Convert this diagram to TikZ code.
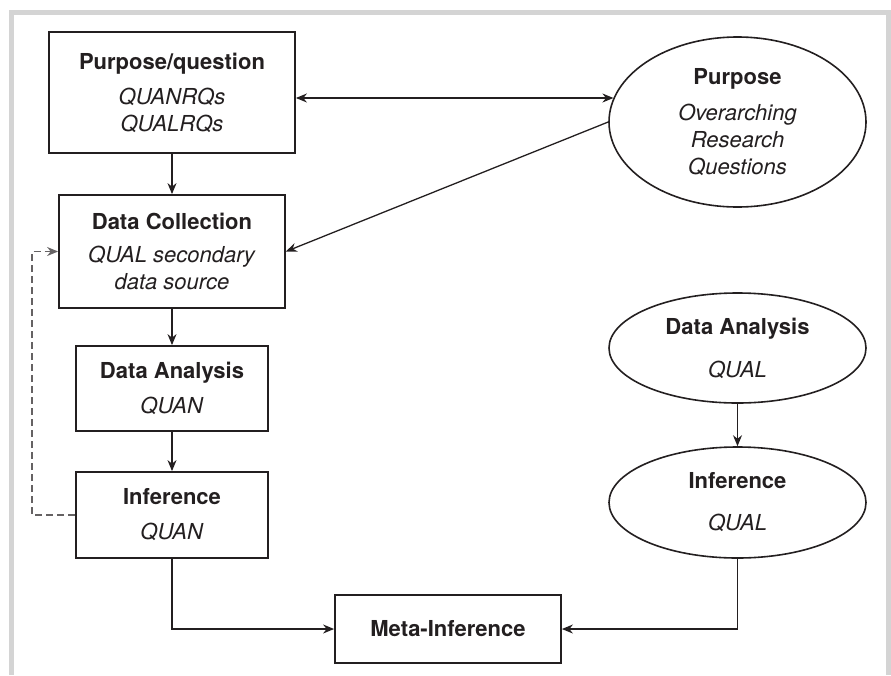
\documentclass[tikz,border=0pt]{standalone}
\usepackage{fontspec}
\setmainfont{TeX Gyre Heros}
\usetikzlibrary{shapes.geometric, arrows.meta}
\definecolor{framegray}{HTML}{D4D4D4}
\definecolor{ink}{HTML}{231F20}

\begin{document}
\begin{tikzpicture}[x=1pt, y=-1pt,
        every node/.style={text=ink, align=center, font=\fontsize{22}{27}\selectfont},
        box/.style={draw=ink, line width=1.8pt, rectangle, inner sep=0pt},
        oval/.style={draw=ink, line width=1.6pt, ellipse, inner sep=0pt,
                     minimum width=257pt},
        link/.style={draw=ink, line width=1.3pt, -{Stealth[length=11pt, width=9pt]}},
        back/.style={draw=ink!70, line width=1.3pt, dash pattern=on 7pt off 4pt,
                     -{Stealth[length=11pt, width=9pt]}}]
                \useasboundingbox (0,0) rectangle (891,675);
                \draw[framegray, line width=5pt] (11.5,675) |- (888,12.5) -- (888,675);

                % left column
                \node[box, minimum width=246pt, minimum height=121pt] (A1) at (172, 92.5)
                    {\textbf{Purpose/question}\\[8pt]\textit{QUANRQs}\\\textit{QUALRQs}};
                \node[box, minimum width=226pt, minimum height=113pt] (A2) at (172, 251.5)
                    {\textbf{Data Collection}\\[6pt]\textit{QUAL secondary}\\\textit{data source}};
                \node[box, minimum width=192pt, minimum height=85pt] (A3) at (172, 388.5)
                    {\textbf{Data Analysis}\\[8pt]\textit{QUAN}};
                \node[box, minimum width=192pt, minimum height=86pt] (A4) at (172, 515)
                    {\textbf{Inference}\\[8pt]\textit{QUAN}};

                % right column
                \node[oval, minimum height=170pt] (B1) at (737.5, 122)
                    {\textbf{Purpose}\\[9pt]\textit{Overarching}\\\textit{Research}\\\textit{Questions}};
                \node[oval, minimum height=110pt] (B2) at (737.5, 348)
                    {\textbf{Data Analysis}\\[16pt]\textit{QUAL}};
                \node[oval, minimum height=111pt] (B3) at (737.5, 502.5)
                    {\textbf{Inference}\\[15pt]\textit{QUAL}};

                \node[box, minimum width=226pt, minimum height=68pt] (M) at (448, 629)
                    {\textbf{Meta-Inference}};

                \coordinate (q) at (0, 98);

                \draw[link, {Stealth[length=11pt, width=9pt]}-{Stealth[length=11pt, width=9pt]}]
                    (A1.east |- q) -- (B1.169 |- q);
                \draw[link] (B1.west) -- (A2.east);

                \draw[link] (A1) -- (A2);
                \draw[link] (A2) -- (A3);
                \draw[link] (A3) -- (A4);
                \draw[back] (A4.west) -- ++(-43,0) |- (A2.west);

                \draw[link] (B2) -- (B3);

                \draw[link] (A4.south) |- (M.west);
                \draw[link] (B3.south) |- (M.east);
            \end{tikzpicture}
\end{document}
